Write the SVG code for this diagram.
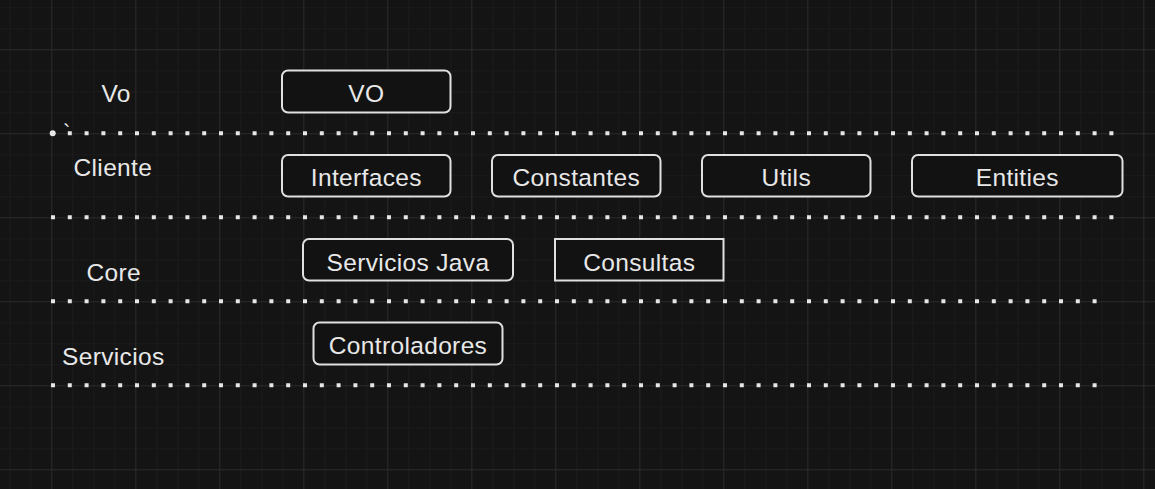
<svg xmlns="http://www.w3.org/2000/svg" width="1155" height="489" viewBox="0 0 1155 489">
<defs>
<pattern id="grid" patternUnits="userSpaceOnUse" x="51.3" y="49.3" width="84" height="84">
<path d="M21.5 0V84M42.5 0V84M63.5 0V84M0 21.5H84M0 42.5H84M0 63.5H84" stroke="#1b1b1b" stroke-width="1" fill="none"/>
<path d="M0.5 0V84M0 0.5H84" stroke="#2b2b2b" stroke-width="1" fill="none"/>
</pattern>
<style>
.box{fill:#121212;stroke:#e0e0e0;stroke-width:2}
.t{font-family:"Liberation Sans",Arial,sans-serif;font-size:24.5px;letter-spacing:0.35px;fill:#e8e8e8}
.c{text-anchor:middle}
.dot{stroke:#e6e6e6;stroke-width:4;stroke-dasharray:4 12.8;fill:none}
</style>
</defs>
<rect width="1155" height="489" fill="#141414"/>
<rect width="1155" height="489" fill="url(#grid)"/>

<g id="separators">
<line class="dot" x1="51" y1="133.3" x2="1113.5" y2="133.3"/>
<circle cx="52.7" cy="133.3" r="3" fill="#e6e6e6"/>
<line class="dot" x1="51" y1="217.3" x2="1113.5" y2="217.3"/>
<line class="dot" x1="51" y1="301.3" x2="1097" y2="301.3"/>
<line class="dot" x1="51" y1="385.3" x2="1097" y2="385.3"/>
</g>

<g id="labels">
<text class="t" x="101.5" y="101.5">Vo</text>
<text class="t" x="63" y="140" style="font-size:22px">`</text>
<text class="t" x="73.5" y="176">Cliente</text>
<text class="t" x="86.5" y="281">Core</text>
<text class="t" x="62" y="364.5">Servicios</text>
</g>

<g id="node-vo">
<rect class="box" x="282" y="70.5" width="168.5" height="42" rx="6"/>
<text class="t c" x="366.3" y="101.5">VO</text>
</g>
<g id="node-interfaces">
<rect class="box" x="282" y="155" width="168.5" height="41.5" rx="6"/>
<text class="t c" x="366.3" y="186">Interfaces</text>
</g>
<g id="node-constantes">
<rect class="box" x="492" y="155" width="168.5" height="41.5" rx="6"/>
<text class="t c" x="576.3" y="186">Constantes</text>
</g>
<g id="node-utils">
<rect class="box" x="702" y="155" width="168.5" height="41.5" rx="6"/>
<text class="t c" x="786.3" y="186">Utils</text>
</g>
<g id="node-entities">
<rect class="box" x="912" y="155" width="210.5" height="41.5" rx="6"/>
<text class="t c" x="1017.3" y="186">Entities</text>
</g>
<g id="node-servicios-java">
<rect class="box" x="303" y="239" width="210" height="41.5" rx="6"/>
<text class="t c" x="408" y="270.5">Servicios Java</text>
</g>
<g id="node-consultas">
<rect class="box" x="555" y="239" width="168.5" height="41.5"/>
<text class="t c" x="639.3" y="270.5">Consultas</text>
</g>
<g id="node-controladores">
<rect class="box" x="313.5" y="322.5" width="189" height="42" rx="6"/>
<text class="t c" x="408" y="354">Controladores</text>
</g>
<g id="connectors"/>
</svg>
